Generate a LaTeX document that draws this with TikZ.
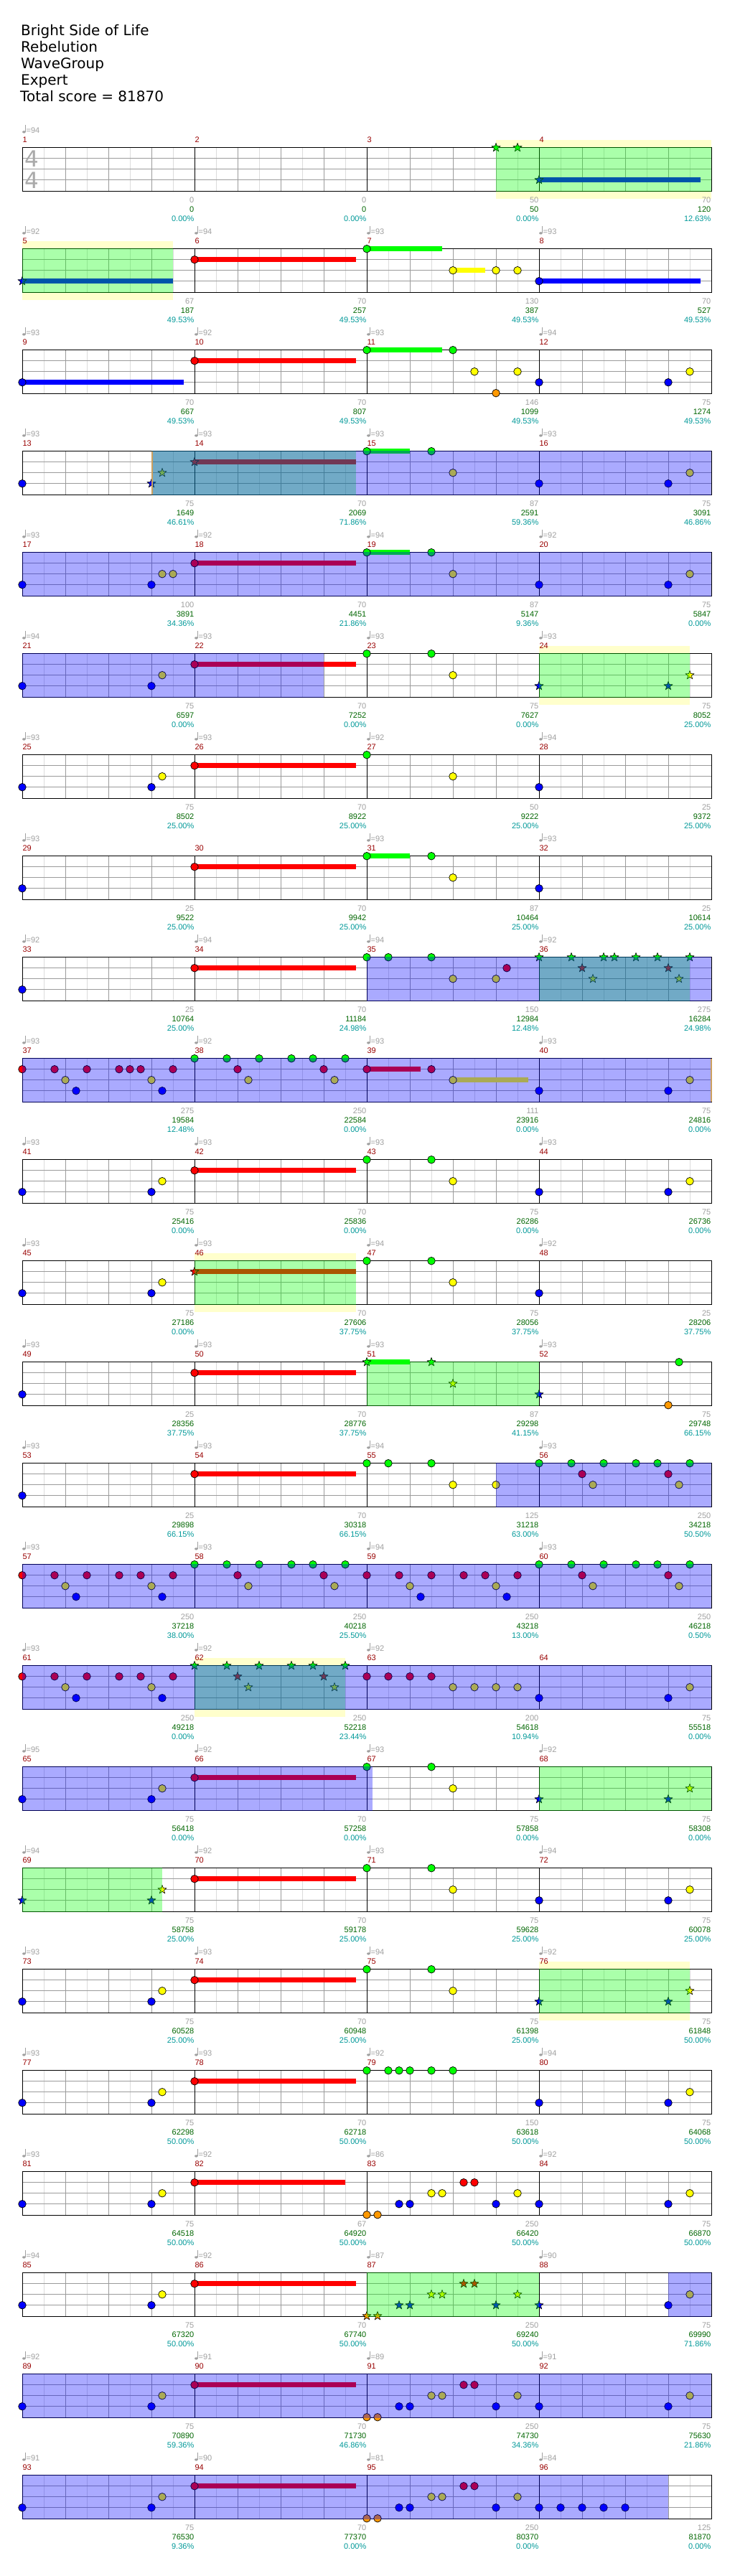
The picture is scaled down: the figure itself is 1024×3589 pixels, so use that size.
\documentclass[tikz,border=0pt]{standalone}
\usepackage{fontspec}
\setmainfont{Liberation Sans}
\newfontfamily\titlefont{DejaVu Sans}
\definecolor{ng}{RGB}{0,255,0}
\definecolor{nr}{RGB}{255,0,0}
\definecolor{ny}{RGB}{255,255,0}
\definecolor{nb}{RGB}{0,0,255}
\definecolor{no}{RGB}{255,153,0}
\definecolor{band}{RGB}{255,255,204}
\definecolor{gmaj}{RGB}{155,155,155}
\definecolor{gmin}{RGB}{220,220,220}
\definecolor{lblgray}{RGB}{160,160,160}
\definecolor{lblgreen}{RGB}{0,102,0}
\definecolor{lblteal}{RGB}{0,153,153}
\definecolor{mnum}{RGB}{153,0,0}
\definecolor{orline}{RGB}{205,160,95}
\definecolor{tsig}{RGB}{170,170,170}
\newcommand\PX[2]{31+240*mod(#1-1,4)+60*(#2)}
\newcommand\PY[1]{205.7+141*floor((#1-1)/4)}
\newcommand\NT[4]{\foreach \b in {#4}{\filldraw[fill=#1,draw=black,line width=0.7pt] ({\PX{#3}{\b}},{\PY{#3}+15*#2}) circle (5.3pt);}}
\newcommand\STR[4]{\foreach \b in {#4}{\filldraw[fill=#1,draw=black,line width=0.6pt,line join=miter] ({\PX{#3}{\b}},{\PY{#3}+15*#2}) +(90:6.2pt) -- +(126:2.6pt) -- +(162:6.2pt) -- +(198:2.6pt) -- +(234:6.2pt) -- +(270:2.6pt) -- +(306:6.2pt) -- +(342:2.6pt) -- +(18:6.2pt) -- +(54:2.6pt) -- cycle;}}
\newcommand\SU[5]{\fill[#1] ({\PX{#3}{#4}},{\PY{#3}+15*#2-3.5}) rectangle ({\PX{#3}{#5}},{\PY{#3}+15*#2+3.5});}
\newcommand\GZ[4]{\fill[ng,opacity=0.3333] ({\PX{#1}{#2}},{\PY{#1}-0.5}) rectangle ({\PX{#3}{#4}},{\PY{#1}+61});}
\newcommand\BZ[4]{\fill[nb,opacity=0.3333] ({\PX{#1}{#2}},{\PY{#1}-0.5}) rectangle ({\PX{#3}{#4}},{\PY{#1}+61});}
\newcommand\YZ[4]{\fill[band] ({\PX{#1}{#2}},{\PY{#1}-10.5}) rectangle ({\PX{#3}{#4}},{\PY{#1}+71});}
\newcommand\nG[2]{\NT{ng}{0}{#1}{#2}}
\newcommand\nR[2]{\NT{nr}{1}{#1}{#2}}
\newcommand\nY[2]{\NT{ny}{2}{#1}{#2}}
\newcommand\nB[2]{\NT{nb}{3}{#1}{#2}}
\newcommand\nO[2]{\NT{no}{4}{#1}{#2}}
\newcommand\sG[2]{\STR{ng}{0}{#1}{#2}}
\newcommand\sR[2]{\STR{nr}{1}{#1}{#2}}
\newcommand\sY[2]{\STR{ny}{2}{#1}{#2}}
\newcommand\sB[2]{\STR{nb}{3}{#1}{#2}}
\newcommand\sO[2]{\STR{no}{4}{#1}{#2}}
\newcommand\pA[1]{\nB{#1}{0,3}\nY{#1}{3.25}}
\newcommand\pB[1]{\nB{#1}{0,3}\nY{#1}{3.5}}
\newcommand\pG[1]{\nG{#1}{0,1.5}\nY{#1}{2}}
\newcommand\gS[1]{\SU{ng}{0}{#1}{0}{1}\nG{#1}{0,1.5}\nY{#1}{2}}
\newcommand\rS[1]{\SU{nr}{1}{#1}{0}{3.75}\nR{#1}{0}}
\newcommand\patA[1]{\nR{#1}{0,0.75,1.5,2.25,2.75,3.5}\nY{#1}{1,3}\nB{#1}{1.25,3.25}}
\newcommand\patB[1]{\nG{#1}{0,0.75,1.5,2.25,2.75,3.5}\nR{#1}{1,3}\nY{#1}{1.25,3.25}}
\newcommand\patC[1]{\nO{#1}{0,0.25}\nB{#1}{0.75,1,3}\nY{#1}{1.5,1.75,3.5}\nR{#1}{2.25,2.5}}
\tikzset{lbl/.style={inner sep=0pt,font=\fontsize{11}{13}\selectfont}}
\begin{document}
\begin{tikzpicture}[x=1pt,y=-1pt]
\useasboundingbox (0,0) rectangle (1024,3589);
\fill[white] (0,0) rectangle (1024,3589);
% title
\node[anchor=base west,inner sep=0pt,font=\titlefont\fontsize{20}{24}\selectfont] (title1) at (29,50) {Bright Side of Life};
\node[anchor=base west,inner sep=0pt,font=\titlefont\fontsize{20}{24}\selectfont] (title2) at (29,73) {Rebelution};
\node[anchor=base west,inner sep=0pt,font=\titlefont\fontsize{20}{24}\selectfont] (title3) at (29,96) {WaveGroup};
\node[anchor=base west,inner sep=0pt,font=\titlefont\fontsize{20}{24}\selectfont] (title4) at (29,119) {Expert};
\node[anchor=base west,inner sep=0pt,font=\titlefont\fontsize{20}{24}\selectfont] (title5) at (28,142) {Total score = 81870};
% yellow bands
\YZ{3}{3}{4}{4}
\YZ{5}{0}{5}{3.5}
\YZ{24}{0}{24}{3.5}
\YZ{46}{0}{46}{3.75}
\YZ{62}{0}{62}{3.5}
\YZ{76}{0}{76}{3.5}
% staffs
\foreach \r in {0,...,23}{
  \pgfmathsetmacro\yo{205.7+141*\r}
  \fill[white] (31,\yo) rectangle (991,\yo+60.5);
  \foreach \k in {0,...,15} \draw[gmin,line width=1pt] ({61+60*\k},\yo) -- ++(0,60.5);
  \foreach \k in {1,2,3,5,6,7,9,10,11,13,14,15} \draw[gmaj,line width=1pt] ({31+60*\k},\yo) -- ++(0,60.5);
  \foreach \l in {15,30,45} \draw[gmaj,line width=1pt] (31,\yo+\l) -- (991,\yo+\l);
  \foreach \k in {1,2,3} \draw[black,line width=1pt] ({31+240*\k},\yo) -- ++(0,60.5);
  \draw[black,line width=1pt] (31,\yo) rectangle (991,\yo+60.5);
}
\node[inner sep=0pt,text=tsig,font=\titlefont\fontsize{31}{31}\selectfont] (ts1) at (44.3,221) {4};
\node[inner sep=0pt,text=tsig,font=\titlefont\fontsize{31}{31}\selectfont] (ts2) at (44.3,250.7) {4};
% notes
\sG{3}{3,3.5}
\SU{nb}{3}{4}{0}{3.75}\sB{4}{0}
\SU{nb}{3}{5}{0}{3.5}\sB{5}{0}
\rS{6}
\SU{ng}{0}{7}{0}{1.75}\nG{7}{0}\SU{ny}{2}{7}{2}{2.75}\nY{7}{2,3,3.5}
\SU{nb}{3}{8}{0}{3.75}\nB{8}{0}
\SU{nb}{3}{9}{0}{3.75}\nB{9}{0}
\rS{10}
\SU{ng}{0}{11}{0}{1.75}\nG{11}{0,2}\nY{11}{2.5,3.5}\nO{11}{3}
\pB{12}
\nB{13}{0}\sB{13}{3}\sY{13}{3.25}
\SU{nr}{1}{14}{0}{3.75}\sR{14}{0}
\gS{15}
\pB{16}
\nB{17}{0,3}\nY{17}{3.25,3.5}
\rS{18}
\gS{19}
\pB{20}
\pA{21}
\rS{22}
\pG{23}
\sB{24}{0,3}\sY{24}{3.5}
\pA{25}
\rS{26}
\nG{27}{0}\nY{27}{2}
\nB{28}{0}
\nB{29}{0}
\rS{30}
\gS{31}
\nB{32}{0}
\nB{33}{0}
\rS{34}
\nG{35}{0,0.5,1.5}\nR{35}{3.25}\nY{35}{2,3}
\sG{36}{0,0.75,1.5,1.75,2.25,2.75,3.5}\sR{36}{1,3}\sY{36}{1.25,3.25}
\nR{37}{0,0.75,1.5,2.25,2.5,2.75,3.5}\nY{37}{1,3}\nB{37}{1.25,3.25}
\patB{38}
\SU{nr}{1}{39}{0}{1.25}\nR{39}{0,1.5}\SU{ny}{2}{39}{2}{3.75}\nY{39}{2}
\pB{40}
\pA{41}
\rS{42}
\pG{43}
\pB{44}
\pA{45}
\SU{nr}{1}{46}{0}{3.75}\sR{46}{0}
\pG{47}
\nB{48}{0}
\nB{49}{0}
\rS{50}
\SU{ng}{0}{51}{0}{1}\sG{51}{0,1.5}\sY{51}{2}
\sB{52}{0}\nO{52}{3}\nG{52}{3.25}
\nB{53}{0}
\rS{54}
\nG{55}{0,0.5,1.5}\nY{55}{2,3}
\patB{56}
\patA{57}
\patB{58}
\patA{59}
\patB{60}
\patA{61}
\sG{62}{0,0.75,1.5,2.25,2.75,3.5}\sR{62}{1,3}\sY{62}{1.25,3.25}
\nR{63}{0,0.5,1,1.5}\nY{63}{2,2.5,3,3.5}
\pB{64}
\pA{65}
\rS{66}
\pG{67}
\sB{68}{0,3}\sY{68}{3.5}
\sB{69}{0,3}\sY{69}{3.25}
\rS{70}
\pG{71}
\pB{72}
\pA{73}
\rS{74}
\pG{75}
\sB{76}{0,3}\sY{76}{3.5}
\pA{77}
\rS{78}
\nG{79}{0,0.5,0.75,1,1.5,2}
\pB{80}
\pA{81}
\SU{nr}{1}{82}{0}{3.5}\nR{82}{0}
\patC{83}
\pB{84}
\pA{85}
\rS{86}
\sO{87}{0,0.25}\sB{87}{0.75,1,3}\sY{87}{1.5,1.75,3.5}\sR{87}{2.25,2.5}
\sB{88}{0}\nB{88}{3}\nY{88}{3.5}
\pA{89}
\rS{90}
\patC{91}
\pB{92}
\pA{93}
\rS{94}
\patC{95}
\nB{96}{0,0.5,1,1.5,2}
% overdrive phrases
\GZ{3}{3}{4}{4}
\GZ{5}{0}{5}{3.5}
\GZ{13}{3}{14}{3.75}
\GZ{24}{0}{24}{3.5}
\GZ{36}{0}{36}{3.5}
\GZ{46}{0}{46}{3.75}
\GZ{51}{0}{52}{0}
\GZ{62}{0}{62}{3.5}
\GZ{68}{0}{68}{4}
\GZ{69}{0}{69}{3.25}
\GZ{76}{0}{76}{3.5}
\GZ{87}{0}{88}{0}
% activation regions
\BZ{13}{3}{16}{4}
\BZ{17}{0}{20}{4}
\BZ{21}{0}{22}{3}
\BZ{35}{0}{36}{4}
\BZ{37}{0}{40}{4}
\BZ{55}{3}{56}{4}
\BZ{57}{0}{60}{4}
\BZ{61}{0}{64}{4}
\BZ{65}{0}{67}{0.125}
\BZ{88}{3}{88}{4}
\BZ{89}{0}{92}{4}
\BZ{93}{0}{96}{3}
\draw[orline,line width=2pt] ({\PX{13}{3}+0.7},{\PY{13}}) -- ++(0,60.5);
\draw[orline,line width=2pt] ({\PX{40}{4}},{\PY{40}}) -- ++(0,60.5);
% labels
\foreach \m/\tp/\sa/\sb/\sc in {1/94/0/0/0.00,2/0/0/0/0.00,3/0/50/50/0.00,4/0/70/120/12.63,
5/92/67/187/49.53,6/94/70/257/49.53,7/93/130/387/49.53,8/93/70/527/49.53,
9/93/70/667/49.53,10/92/70/807/49.53,11/93/146/1099/49.53,12/94/75/1274/49.53,
13/93/75/1649/46.61,14/93/70/2069/71.86,15/93/87/2591/59.36,16/93/75/3091/46.86,
17/93/100/3891/34.36,18/92/70/4451/21.86,19/94/87/5147/9.36,20/92/75/5847/0.00,
21/94/75/6597/0.00,22/93/70/7252/0.00,23/93/75/7627/0.00,24/93/75/8052/25.00,
25/93/75/8502/25.00,26/93/70/8922/25.00,27/92/50/9222/25.00,28/94/25/9372/25.00,
29/93/25/9522/25.00,30/0/70/9942/25.00,31/93/87/10464/25.00,32/93/25/10614/25.00,
33/92/25/10764/25.00,34/94/70/11184/24.98,35/94/150/12984/12.48,36/92/275/16284/24.98,
37/93/275/19584/12.48,38/92/250/22584/0.00,39/93/111/23916/0.00,40/93/75/24816/0.00,
41/93/75/25416/0.00,42/93/70/25836/0.00,43/93/75/26286/0.00,44/93/75/26736/0.00,
45/93/75/27186/0.00,46/93/70/27606/37.75,47/94/75/28056/37.75,48/92/25/28206/37.75,
49/93/25/28356/37.75,50/93/70/28776/37.75,51/93/87/29298/41.15,52/93/75/29748/66.15,
53/93/25/29898/66.15,54/93/70/30318/66.15,55/94/125/31218/63.00,56/93/250/34218/50.50,
57/93/250/37218/38.00,58/93/250/40218/25.50,59/94/250/43218/13.00,60/93/250/46218/0.50,
61/93/250/49218/0.00,62/92/250/52218/23.44,63/92/200/54618/10.94,64/0/75/55518/0.00,
65/95/75/56418/0.00,66/92/70/57258/0.00,67/93/75/57858/0.00,68/92/75/58308/0.00,
69/94/75/58758/25.00,70/92/70/59178/25.00,71/93/75/59628/25.00,72/94/75/60078/25.00,
73/93/75/60528/25.00,74/93/70/60948/25.00,75/94/75/61398/25.00,76/92/75/61848/50.00,
77/93/75/62298/50.00,78/93/70/62718/50.00,79/92/150/63618/50.00,80/94/75/64068/50.00,
81/93/75/64518/50.00,82/92/67/64920/50.00,83/86/250/66420/50.00,84/92/75/66870/50.00,
85/94/75/67320/50.00,86/92/70/67740/50.00,87/87/250/69240/50.00,88/90/75/69990/71.86,
89/92/75/70890/59.36,90/91/70/71730/46.86,91/89/250/74730/34.36,92/91/75/75630/21.86,
93/91/75/76530/9.36,94/90/70/77370/0.00,95/81/250/80370/0.00,96/84/125/81870/0.00}{
  \pgfmathsetmacro\xa{31+240*mod(\m-1,4)}
  \pgfmathsetmacro\ya{205.7+141*floor((\m-1)/4)}
  \node[lbl,text=mnum,anchor=base west] (num\m) at ({\xa+0.3},{\ya-7.7}) {\m};
  \ifnum\tp=0\relax\else
    \fill[lblgray] ({\xa+2.4},{\ya-21.8}) ellipse (2.3pt and 1.7pt);
    \draw[lblgray,line width=0.8pt] ({\xa+4.3},{\ya-21.8}) -- ({\xa+4.3},{\ya-32});
    \node[lbl,text=lblgray,anchor=base west] (tp\m) at ({\xa+5.5},{\ya-20.7}) {=\tp};
  \fi
  \node[lbl,text=lblgray,anchor=base east] (sa\m) at ({\xa+239.5},{\ya+76.3}) {\sa};
  \node[lbl,text=lblgreen,anchor=base east] (sb\m) at ({\xa+239.5},{\ya+89.3}) {\sb};
  \node[lbl,text=lblteal,anchor=base east] (sc\m) at ({\xa+239.5},{\ya+102.3}) {\sc\%};
}
\end{tikzpicture}
\end{document}
